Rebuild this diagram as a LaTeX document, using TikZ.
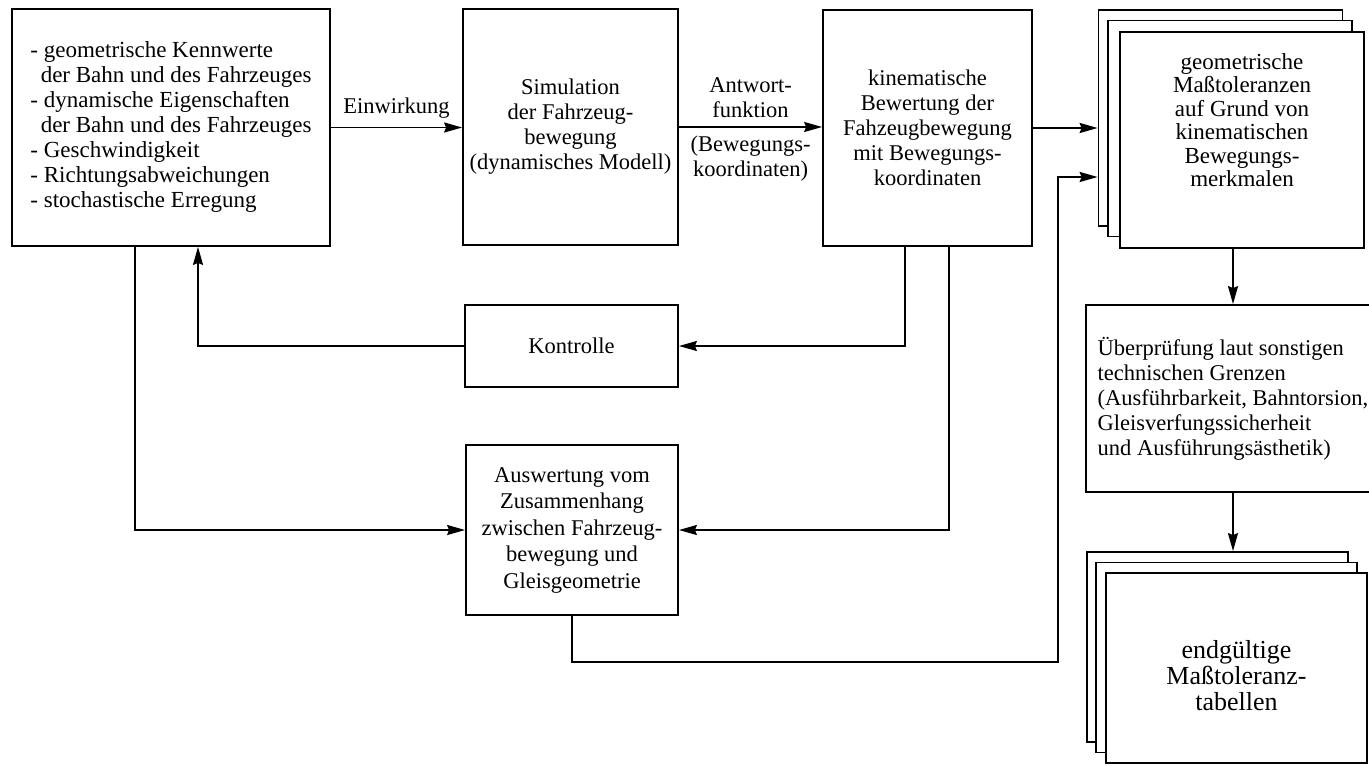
\documentclass[tikz,border=0pt]{standalone}
\usepackage{fontspec}
\setmainfont{Liberation Serif}
\usetikzlibrary{arrows.meta, positioning, calc}

\begin{document}
\begin{tikzpicture}[
    x=0.5pt, y=-0.5pt,
    every node/.style={font=\fontsize{11.25}{12.5}\selectfont},
    box/.style={draw, line width=0.9pt, fill=white, inner sep=0pt, align=center},
    tolsheet/.style={box, minimum width=122pt, minimum height=108pt},
    finsheet/.style={box, minimum width=130.5pt, minimum height=95pt},
    arrow/.style={-{Stealth[length=9pt, width=5pt, inset=1pt]}, line width=0.9pt},
    lbl/.style={inner sep=1pt, align=center}
]
\useasboundingbox (0,0) rectangle (1369,765);

% === NODES, top row ===

% input data at top left
\node[box, align=left, minimum width=159pt, minimum height=118.5pt,
      font=\fontsize{11.5}{12.5}\selectfont] (input) at (171,127.5)
    {- geometrische Kennwerte\\
     \hspace*{0.45em}der Bahn und des Fahrzeuges\\
     - dynamische Eigenschaften\\
     \hspace*{0.45em}der Bahn und des Fahrzeuges\\
     - Geschwindigkeit\\
     - Richtungsabweichungen\\
     - stochastische Erregung};

% simulation
\node[box, minimum width=107.5pt, minimum height=118pt] (sim) at (570.5,127)
    {Simulation\\der Fahrzeug-\\bewegung\\(dynamisches Modell)};

% kinematic evaluation
\node[box, minimum width=104.5pt, minimum height=118pt] (kin) at (927.5,128)
    {kinematische\\Bewertung der\\Fahzeugbewegung\\mit Bewegungs-\\koordinaten};

% stack of sheets: tolerances
\node[tolsheet] (tolC) at (1220.5,118) {};
\node[tolsheet] (tolB) at (1230,128.5) {};
\node[tolsheet, font=\fontsize{11.5}{11.75}\selectfont] (tol) at (1242,140)
    {geometrische\\Maßtoleranzen\\auf Grund von\\kinematischen\\Bewegungs-\\merkmalen\\[8pt]};

% === NODES, lower part ===

% control
\node[box, minimum width=106.5pt, minimum height=41pt] (ctrl) at (571.5,346) {Kontrolle};

% evaluation
\node[box, minimum width=106pt, minimum height=85pt, font=\fontsize{11.25}{13.25}\selectfont] (eval) at (572,530)
    {Auswertung vom\\Zusammenhang\\zwischen Fahrzeug-\\bewegung und\\Gleisgeometrie};

% check against other limits
\node[box, align=left, minimum width=147pt, minimum height=93.5pt,
      font=\fontsize{11.25}{12.5}\selectfont] (check) at (1233,398.5)
    {Überprüfung laut sonstigen\\
     technischen Grenzen\\
     (Ausführbarkeit, Bahntorsion,\\
     Gleisverfungssicherheit\\
     und Ausführungsästhetik)};

% stack of sheets: final tables
\node[finsheet] (finC) at (1217.5,647) {};
\node[finsheet] (finB) at (1226.5,657.5) {};
\node[finsheet, font=\fontsize{13}{13}\selectfont] (fin) at (1236.5,668)
    {\\[4pt]endgültige\\Maßtoleranz-\\tabellen};

% corner of the long return line
\coordinate (ret) at (1058,662);

% === CONNECTORS ===

\draw[arrow] (input.east) -- node[lbl, above=3pt] {Einwirkung} (input.east -| sim.west);

\draw[arrow] (sim.east) -- node[lbl, above=3pt] {Antwort-\\funktion}
    node[lbl, below=3pt] {(Bewegungs-\\koordinaten)} (sim.east -| kin.west);

\draw[arrow] (kin.east) -- (kin.east -| tolC.west);

\draw[arrow] (check.north |- tol.south) -- (check.north);
\draw[arrow] (check.south) -- (check.south |- finC.north);

% feedback and evaluation
\draw[arrow] ($(kin.south)+(-22.5,0)$) |- (ctrl.east);
\draw[arrow] ($(kin.south)+(21.5,0)$) |- (eval.east);
\draw[arrow] (ctrl.west) -| ($(input.south)+(27,0)$);
\draw[arrow] ($(input.south)+(-36,0)$) |- (eval.west);
\draw[arrow] (eval.south) |- (ret) |- ($(tolC.west)+(0,59)$);

\end{tikzpicture}
\end{document}
